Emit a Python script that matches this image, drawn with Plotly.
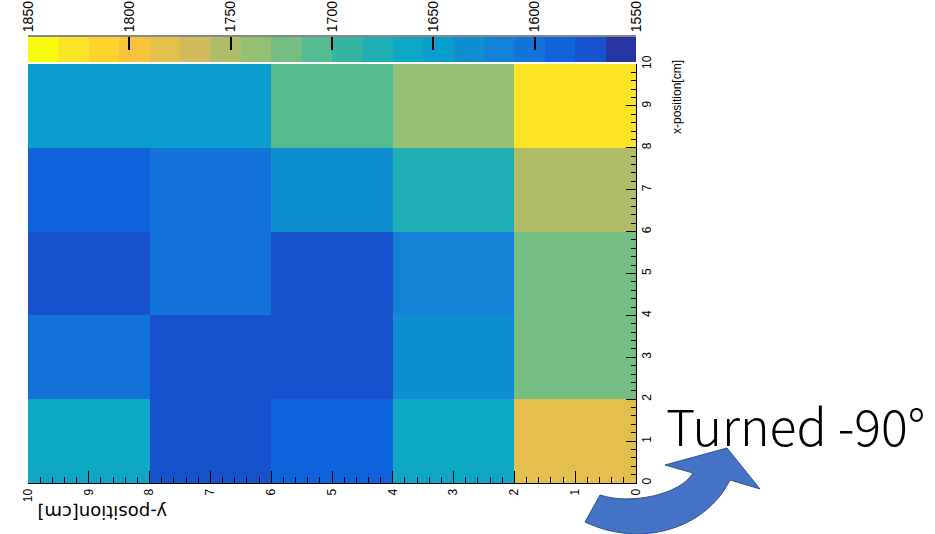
import plotly.graph_objects as go

# ---- data ----
y_position = [1, 3, 5, 7, 9]          # column centres (cm), horizontal axis
x_position = [1, 3, 5, 7, 9]          # row centres (cm), vertical axis
# z[row][col]: rows = x_position (bottom->top), cols = y_position ascending
z_values = [
    [1782, 1662, 1588, 1572, 1662],
    [1722, 1632, 1572, 1572, 1602],
    [1722, 1618, 1572, 1602, 1572],
    [1752, 1678, 1632, 1602, 1588],
    [1828, 1738, 1708, 1648, 1648],
]
axis_ticks = [0, 1, 2, 3, 4, 5, 6, 7, 8, 9, 10]
cbar_ticks = [1550, 1600, 1650, 1700, 1750, 1800, 1850]
zmin, zmax, nbins = 1550, 1850, 20
palette = ["#26359f", "#1752cd", "#0f64dc", "#1373d9", "#1382d6", "#0f8ed1",
           "#099ecd", "#0ea8c5", "#1eaeb3", "#34b5a2", "#54bb90", "#76bd81",
           "#94c073", "#b1bc68", "#d1bb5d", "#e3c04b", "#f6c33a", "#fdd22c",
           "#fbe325", "#f9fb0e"]

colorscale = []
for i, c in enumerate(palette):
    colorscale.append([i / nbins, c])
    colorscale.append([(i + 1) / nbins, c])

step = (zmax - zmin) / nbins
bin_centres = [zmin + step * (i + 0.5) for i in range(nbins)]

# ---- layout geometry ----
W, H = 935, 534
L, R, T, B = 28, 299, 37, 51
PW, PH = W - L - R, H - T - B
main_top = 64
cb_bottom = 62


def px(x):
    return (x - L) / PW


def py(y):
    return (H - B - y) / PH


fig = go.Figure()
fig.add_trace(go.Heatmap(
    x=y_position, y=x_position, z=z_values,
    zmin=zmin, zmax=zmax, colorscale=colorscale, showscale=False,
    xaxis="x", yaxis="y", hoverinfo="skip"))
fig.add_trace(go.Heatmap(
    x=bin_centres, y=[0], z=[bin_centres],
    zmin=zmin, zmax=zmax, colorscale=colorscale, showscale=False,
    xaxis="x2", yaxis="y2", hoverinfo="skip"))

tickfont = dict(family="Liberation Sans, Arial, sans-serif", size=12, color="black")

fig.update_layout(
    width=W, height=H,
    margin=dict(l=L, r=R, t=T, b=B, pad=0, autoexpand=False),
    paper_bgcolor="white", plot_bgcolor="white",
    showlegend=False,
    xaxis=dict(
        domain=[0, 1], range=[10, 0], anchor="y", automargin=False,
        tickmode="array", tickvals=axis_ticks, ticktext=[str(t) for t in axis_ticks],
        ticks="inside", ticklen=12, tickcolor="black", tickwidth=1,
        tickangle=-90, tickfont=tickfont,
        minor=dict(dtick=0.2, ticks="inside", ticklen=6, tickcolor="black"),
        showline=True, linecolor="black", linewidth=1,
        showgrid=False, zeroline=False, fixedrange=True),
    yaxis=dict(
        domain=[0, py(main_top)], range=[0, 10], anchor="x", side="right",
        automargin=False,
        tickmode="array", tickvals=axis_ticks, ticktext=[str(t) for t in axis_ticks],
        ticks="inside", ticklen=10, tickcolor="black", tickwidth=1,
        tickangle=-90, tickfont=tickfont,
        minor=dict(dtick=0.2, ticks="inside", ticklen=5, tickcolor="black"),
        showline=True, linecolor="black", linewidth=1,
        showgrid=False, zeroline=False, fixedrange=True),
    xaxis2=dict(
        domain=[0, 1], range=[zmax, zmin], anchor="y2", side="top",
        automargin=False,
        tickmode="array", tickvals=cbar_ticks, ticktext=[str(t) for t in cbar_ticks],
        ticks="inside", ticklen=13, tickcolor="black", tickwidth=2,
        tickangle=-90, tickfont=dict(family="Liberation Sans, Arial, sans-serif",
                                     size=14, color="black"),
        showline=True, linecolor="#888888", linewidth=2,
        showgrid=False, zeroline=False, fixedrange=True),
    yaxis2=dict(
        domain=[py(cb_bottom), 1], range=[-0.5, 0.5], anchor="x2",
        automargin=False,
        showticklabels=False, ticks="", showgrid=False, zeroline=False,
        fixedrange=True),
)

# axis titles
fig.add_annotation(
    text="x-position[cm]", xref="paper", yref="paper",
    x=px(677), y=py(97), xanchor="center", yanchor="middle",
    textangle=-90, showarrow=False,
    font=dict(family="Liberation Sans, Arial, sans-serif", size=12, color="black"))
fig.add_annotation(
    text="y-position[cm]", xref="paper", yref="paper",
    x=px(102), y=py(513), xanchor="center", yanchor="middle",
    textangle=180, showarrow=False,
    font=dict(family="DejaVu Sans, sans-serif", size=18, color="black"))

# "Turned -90°" label
fig.add_annotation(
    text="Turned -90°", xref="paper", yref="paper",
    x=px(795), y=py(424), xanchor="center", yanchor="middle",
    showarrow=False,
    font=dict(family="Noto Sans CJK JP, Noto Sans, sans-serif", size=50,
              color="black", weight=300))

# curved block arrow (decoration)
pts = {
    "A": (585, 522), "B": (600, 495),
    "c1": (630, 505), "c2": (680, 495), "C": (693, 473),
    "D": (665, 465), "E": (727, 448), "F": (760, 489), "G": (730, 480),
    "c3": (705, 530), "c4": (640, 548),
}


def P(k):
    x, y = pts[k]
    return f"{px(x):.5f},{py(y):.5f}"


path = (f"M {P('A')} L {P('B')} C {P('c1')} {P('c2')} {P('C')} "
        f"L {P('D')} L {P('E')} L {P('F')} L {P('G')} "
        f"C {P('c3')} {P('c4')} {P('A')} Z")
fig.add_shape(type="path", path=path, xref="paper", yref="paper",
              fillcolor="#4472c4", line=dict(color="#2f528f", width=1), layer="above")

fig.write_html("out.html")
